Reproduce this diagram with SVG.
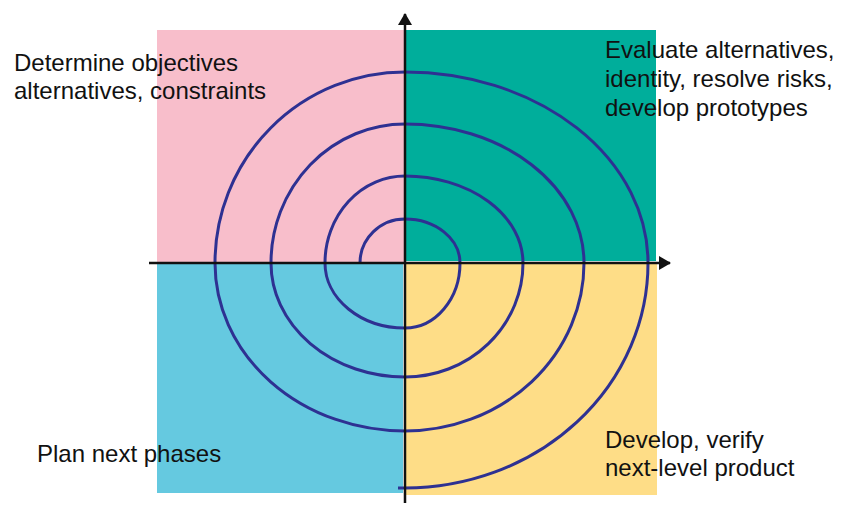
<svg xmlns="http://www.w3.org/2000/svg" width="850" height="518" viewBox="0 0 850 518">
  <style>
    .label { font-family: "Liberation Sans", Arial, sans-serif; font-size: 24px; fill: #111111; }
    .axis { stroke: #111111; stroke-width: 2.5; fill: none; }
    .spiral { stroke: #2e3192; stroke-width: 3; fill: none; stroke-linejoin: round; }
  </style>
  <defs>
    <marker id="arrow" viewBox="0 0 12 14" refX="11" refY="7" markerWidth="12" markerHeight="14" markerUnits="userSpaceOnUse" orient="auto">
      <path d="M0,0 L12,7 L0,14 Z" fill="#111111"/>
    </marker>
  </defs>

  <rect width="850" height="518" fill="#ffffff"/>

  <!-- quadrants -->
  <g id="quadrant-objectives">
    <rect x="157" y="30" width="248" height="233" fill="#f8becb"/>
    <text class="label" x="14" y="71">Determine objectives</text>
    <text class="label" x="14" y="99">alternatives, constraints</text>
  </g>
  <g id="quadrant-risks">
    <rect x="405" y="30" width="251" height="231" fill="#00ae9b"/>
    <text class="label" x="605" y="58">Evaluate alternatives,</text>
    <text class="label" x="605" y="87">identity, resolve risks,</text>
    <text class="label" x="605" y="116">develop prototypes</text>
  </g>
  <g id="quadrant-planning">
    <rect x="157" y="263" width="246" height="230" fill="#65c9e0"/>
    <text class="label" x="37" y="462">Plan next phases</text>
  </g>
  <g id="quadrant-development">
    <rect x="405" y="263" width="252" height="232" fill="#fedd87"/>
    <text class="label" x="605" y="448">Develop, verify</text>
    <text class="label" x="605" y="476">next-level product</text>
  </g>

  <!-- spiral and axes -->
  <g id="connectors">
    <path class="spiral" d="M360,263 A45,44 0 0 1 405,219 A55,44 0 0 1 460,263 A55,65 0 0 1 405,328 A80,65 0 0 1 325,263 A80,87 0 0 1 405,176 A118,87 0 0 1 523,263 A118,114 0 0 1 405,377 A134,114 0 0 1 271,263 A134,139 0 0 1 405,124 A179,139 0 0 1 584,263 A179,168 0 0 1 405,431 A190,168 0 0 1 215,263 A190,191 0 0 1 405,72 A243,191 0 0 1 648,263 A243,225 0 0 1 405,488 L398,488"/>
    <line class="axis" x1="405" y1="503" x2="405" y2="14" marker-end="url(#arrow)"/>
    <line class="axis" x1="149" y1="263" x2="670" y2="263" marker-end="url(#arrow)"/>
  </g>
</svg>
